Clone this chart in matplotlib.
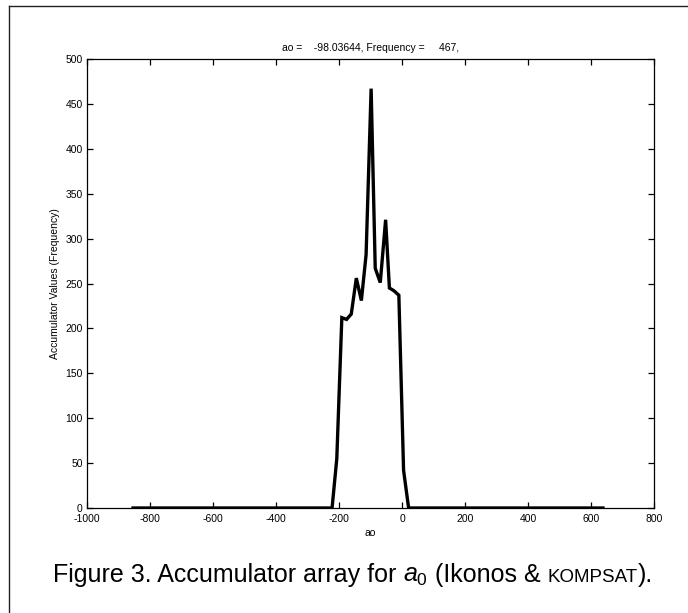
import matplotlib
matplotlib.use("Agg")
import matplotlib.pyplot as plt
from matplotlib import font_manager
from matplotlib.lines import Line2D

# histogram of ao values
ao = [-854, -222, -207, -191, -176, -161, -145, -129, -114, -98, -85, -69,
      -52, -40, -26, -10, 5, 21, 638]
freq = [0, 0, 55, 212, 210, 216, 256, 231, 282, 467, 267, 251,
        321, 245, 242, 237, 42, 0, 0]

xticks = list(range(-1000, 801, 200))
yticks = list(range(0, 501, 50))
title_txt = "ao =    -98.03644, Frequency =     467,"

names = {f.name for f in font_manager.fontManager.ttflist}
cap_font = "Liberation Sans Narrow" if "Liberation Sans Narrow" in names else "Liberation Sans"

plt.rcParams['font.family'] = ['Liberation Sans', 'DejaVu Sans']
plt.rcParams['axes.unicode_minus'] = False
plt.rcParams['mathtext.fontset'] = 'custom'
plt.rcParams['mathtext.it'] = cap_font + ':italic'
plt.rcParams['mathtext.rm'] = cap_font

fig = plt.figure(figsize=(6.88, 6.13), dpi=100)
ax = fig.add_axes([87/688, 105/613, 567/688, 449/613])

ax.plot(ao, freq, color='black', lw=2.4, solid_joinstyle='miter')
ax.set_xlim(-1000, 800)
ax.set_ylim(0, 500)
ax.set_xticks(xticks)
ax.set_yticks(yticks)
ax.tick_params(direction='in', length=4, width=0.9, labelsize=7.5,
               top=True, right=True, pad=3)
ax.tick_params(axis='x', pad=4)
for s in ax.spines.values():
    s.set_linewidth(0.9)
ax.set_xlabel("ao", fontsize=7.5, labelpad=3)
ax.set_ylabel("Accumulator Values (Frequency)", fontsize=7.5, labelpad=4)
ax.set_title(title_txt, fontsize=7.5, pad=6)

# frame lines (left and top only visible)
fig.add_artist(Line2D([9/688, 9/688], [0, 1 - 6/613], transform=fig.transFigure,
                      color='#222222', lw=1.0))
fig.add_artist(Line2D([9/688, 1], [1 - 6/613, 1 - 6/613], transform=fig.transFigure,
                      color='#222222', lw=1.0))

# caption, built piece by piece so KOMPSAT can be in small caps
pieces = [("Figure 3. Accumulator array for ", 18),
          (r"$a_0$", 18),
          (" (Ikonos & ", 18),
          ("KOMPSAT", 13.5),
          (").", 18)]
fig.canvas.draw()
r = fig.canvas.get_renderer()
texts = []
widths = []
for s, fs in pieces:
    t = fig.text(0, 0.0506, s, fontsize=fs, family=cap_font, va='baseline', ha='left')
    w = t.get_window_extent(renderer=r).width
    texts.append(t)
    widths.append(w)
total = sum(widths)
x = 353 - total / 2
for t, w in zip(texts, widths):
    t.set_x(x / 688)
    x += w

fig.savefig("out.png", dpi=100)
